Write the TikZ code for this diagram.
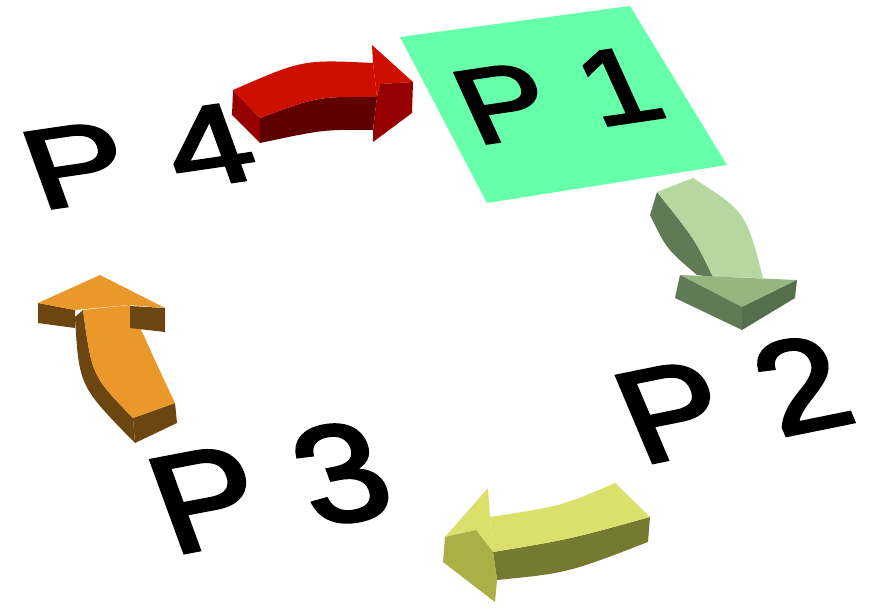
\documentclass[tikz,border=0pt]{standalone}
\usepackage{fontspec}
\setmainfont{Liberation Sans}
\newfontfamily\pfont[FakeBold=2.5]{Liberation Sans}
\definecolor{padgreen}{RGB}{102,255,170}
\definecolor{redtop}{RGB}{205,15,0}
\definecolor{redend}{RGB}{150,0,0}
\definecolor{redside}{RGB}{95,0,0}
\definecolor{greentop}{RGB}{182,216,160}
\definecolor{greenhead}{RGB}{150,182,128}
\definecolor{greenside}{RGB}{95,122,85}
\definecolor{yellowtop}{RGB}{218,224,105}
\definecolor{yellowfront}{RGB}{170,175,70}
\definecolor{yellowside}{RGB}{118,122,48}
\definecolor{orangetop}{RGB}{235,152,42}
\definecolor{orangeside}{RGB}{108,70,16}

\begin{document}
\begin{tikzpicture}[
  x=1pt,y=-1pt,
  face/.style={fill=#1,draw=none},
  plabel/.style={inner sep=0,anchor=base west,font=\pfont\fontsize{80}{80}\selectfont},
]
  \useasboundingbox (0,0) rectangle (871,613);
  % pad under P 1
  \fill[face=padgreen] (400,37) -- (630,6) -- (727,165) -- (487,203) -- cycle;

  % labels in perspective
  \foreach \nm/\txt/\a/\b/\c/\d/\x/\y in {
      P1/P 1/1.62/0.24/-0.581/1.279/476/145,
      P2/P 2/1.83/0.371/-0.663/1.571/641/465,
      P3/P 3/1.90/0.362/-0.611/1.675/172/555,
      P4/P 4/1.86/0.272/-0.494/1.366/40/210}
    \node[plabel,cm={\a,\b,\c,\d,(0,0)}] (\nm) at (\x,\y) {\txt};

  % P4 -> P1
  \fill[face=redside] (260,118) .. controls (317.5,96.5) .. (377,97) -- (373,130)
    .. controls (323.5,129.5) .. (260,143) -- cycle;
  \fill[face=redend] (233,90) -- (260,118) -- (260,143) -- (232,115) -- cycle;
  \fill[face=redtop] (233,90) .. controls (303,59.5) .. (373,63) -- (377,97)
    .. controls (317.5,96.5) .. (260,118) -- cycle;
  \fill[face=redtop] (372,45) -- (413,82) -- (380,84) -- (377,97) -- (373,63) -- cycle;
  \fill[face=redend] (380,84) -- (413,82) -- (412,113) -- (373,142) -- (373,130) -- (377,97) -- cycle;

  % P1 -> P2
  \fill[face=greenside] (650,215) .. controls (666.5,249) .. (697,275) -- (713,277)
    .. controls (695,239.5) .. (657,192) -- cycle;
  \fill[face=greentop] (657,192) -- (693,178) .. controls (746,212) .. (763,278) -- (713,277)
    .. controls (695,239.5) .. (657,192);
  \fill[face=greenhead] (680,275) -- (797,280) -- (742,307) -- cycle;
  \fill[face=greenside] (680,275) -- (742,307) -- (742,330) -- (675,298) -- cycle;
  \fill[face=greenside!90!black] (742,307) -- (797,280) -- (795,298) -- (742,330) -- cycle;

  % P2 -> P3
  \fill[face=yellowside] (650,517) .. controls (568.5,539.5) .. (493,552) -- (497,580)
    .. controls (567.5,573) .. (648,542) -- cycle;
  \fill[face=yellowtop] (615,483) .. controls (561.5,506) .. (490,517) -- (493,552)
    .. controls (568.5,539.5) .. (650,517) -- cycle;
  \fill[face=yellowtop] (488,488) -- (445,537) -- (476,530) -- (493,552) -- (490,517) -- cycle;
  \fill[face=yellowfront] (445,537) -- (476,530) -- (493,552) -- (497,580) -- (495,602) -- (443,562) -- cycle;

  % P3 -> P4
  \fill[face=orangeside] (133,418) -- (175,403) -- (177,423) -- (135,443) -- cycle;
  \fill[face=orangeside] (75,317) .. controls (79,386) .. (135,443) -- (133,418)
    .. controls (92,376) .. (83,310) -- cycle;
  \fill[face=orangetop] (83,310) .. controls (92,376) .. (133,418) -- (175,403)
    .. controls (157.5,366) .. (130,305) -- cycle;
  \fill[face=orangeside] (38,303) -- (75,310) -- (75,328) -- (38,323) -- cycle;
  \fill[face=orangeside] (130,306) -- (165,308) -- (165,332) -- (130,328) -- cycle;
  \fill[face=orangetop] (100,275) -- (38,303) -- (75,310) -- (128,305) -- (165,308) -- cycle;
\end{tikzpicture}
\end{document}
